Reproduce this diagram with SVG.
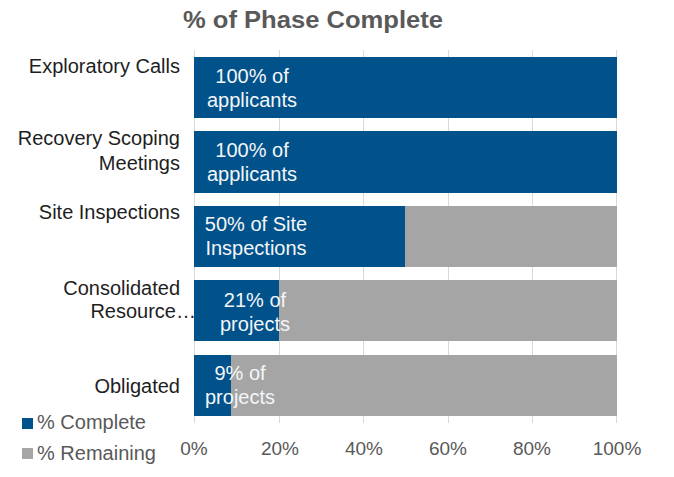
<svg xmlns="http://www.w3.org/2000/svg" width="674" height="477" viewBox="0 0 674 477">
<style>
.title{font-family:"Liberation Sans",Arial,sans-serif;font-weight:bold;font-size:24px;fill:#595959}
.cat{font-family:"Liberation Sans",Arial,sans-serif;font-size:20px;fill:#1e1e1e;text-anchor:end}
.val{font-family:"Liberation Sans",Arial,sans-serif;font-size:20px;fill:#f4f6f9;text-anchor:middle}
.ax{font-family:"Liberation Sans",Arial,sans-serif;font-size:19px;fill:#595959;text-anchor:middle}
.leg{font-family:"Liberation Sans",Arial,sans-serif;font-size:20px;fill:#595959}
.done{fill:#01528a}
.rem{fill:#a5a5a5}
.grid{stroke:#d9d9d9;stroke-width:1}
</style>
<rect width="674" height="477" fill="#ffffff"/>
<text class="title" x="183" y="28" textLength="260" lengthAdjust="spacingAndGlyphs">% of Phase Complete</text>
<g id="gridlines">
<line class="grid" x1="194.5" y1="50" x2="194.5" y2="423"/>
<line class="grid" x1="279.5" y1="50" x2="279.5" y2="423"/>
<line class="grid" x1="363.5" y1="50" x2="363.5" y2="423"/>
<line class="grid" x1="448.5" y1="50" x2="448.5" y2="423"/>
<line class="grid" x1="532.5" y1="50" x2="532.5" y2="423"/>
<line class="grid" x1="616.5" y1="50" x2="616.5" y2="423"/>
</g>
<g id="row-exploratory">
<rect class="done" x="194" y="57" width="423" height="61"/>
<text class="cat" x="180" y="73">Exploratory Calls</text>
<text class="val" x="252" y="83">100% of</text>
<text class="val" x="252" y="107">applicants</text>
</g>
<g id="row-recovery">
<rect class="done" x="194" y="131" width="423" height="62"/>
<text class="cat" x="180" y="145">Recovery Scoping</text>
<text class="cat" x="180" y="170">Meetings</text>
<text class="val" x="252" y="157">100% of</text>
<text class="val" x="252" y="181">applicants</text>
</g>
<g id="row-site">
<rect class="rem" x="194" y="206" width="423" height="61"/>
<rect class="done" x="194" y="206" width="211" height="61"/>
<text class="cat" x="180" y="219">Site Inspections</text>
<text class="val" x="256" y="231">50% of Site</text>
<text class="val" x="256" y="255">Inspections</text>
</g>
<g id="row-consolidated">
<rect class="rem" x="194" y="280" width="423" height="61"/>
<rect class="done" x="194" y="280" width="85" height="61"/>
<text class="cat" x="180" y="295">Consolidated</text>
<text class="cat" x="196" y="318">Resource…</text>
<text class="val" x="255" y="307">21% of</text>
<text class="val" x="255" y="331">projects</text>
</g>
<g id="row-obligated">
<rect class="rem" x="194" y="355" width="423" height="61"/>
<rect class="done" x="194" y="355" width="37" height="61"/>
<text class="cat" x="180" y="393">Obligated</text>
<text class="val" x="240" y="380">9% of</text>
<text class="val" x="240" y="404">projects</text>
</g>
<g id="axis">
<text class="ax" x="194" y="455">0%</text>
<text class="ax" x="280" y="455">20%</text>
<text class="ax" x="364" y="455">40%</text>
<text class="ax" x="448" y="455">60%</text>
<text class="ax" x="532" y="455">80%</text>
<text class="ax" x="617" y="455">100%</text>
</g>
<g id="legend">
<rect class="done" x="22" y="418" width="11" height="11"/>
<text class="leg" x="37" y="429">% Complete</text>
<rect class="rem" x="22" y="448" width="11" height="11"/>
<text class="leg" x="37" y="460">% Remaining</text>
</g>
</svg>
